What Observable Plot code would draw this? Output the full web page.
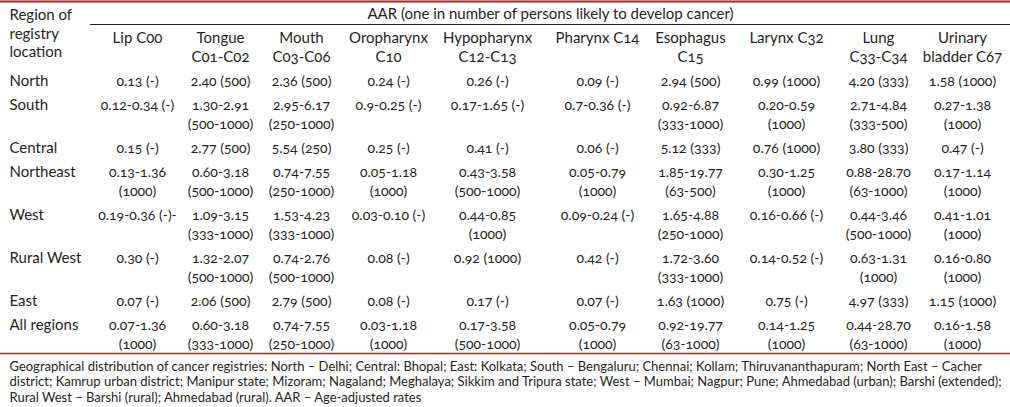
<!DOCTYPE html>
<html><head><meta charset="utf-8">
<script src="https://cdn.jsdelivr.net/npm/d3@7"></script>
<script src="https://cdn.jsdelivr.net/npm/@observablehq/plot@0.6"></script>
<style>
html,body{margin:0;padding:0;background:#fff;}
#chart svg{display:block;}
</style></head><body><div id="chart"></div>
<script>
// ---------- DATA ----------
const spanner = "AAR (one in number of persons likely to develop cancer)";
const stubHeader = ["Region of", "registry", "location"];
const regions = ["North", "South", "Central", "Northeast", "West", "Rural West", "East", "All regions"];
const columnHeaders = [
  ["Lip C00"], ["Tongue", "C01-C02"], ["Mouth", "C03-C06"], ["Oropharynx", "C10"],
  ["Hypopharynx", "C12-C13"], ["Pharynx C14"], ["Esophagus", "C15"], ["Larynx C32"],
  ["Lung", "C33-C34"], ["Urinary", "bladder C67"]
];
const lipC00 = ["0.13 (-)", "0.12-0.34 (-)", "0.15 (-)", "0.13-1.36 (1000)", "0.19-0.36 (-)-", "0.30 (-)", "0.07 (-)", "0.07-1.36 (1000)"];
const tongue = ["2.40 (500)", "1.30-2.91 (500-1000)", "2.77 (500)", "0.60-3.18 (500-1000)", "1.09-3.15 (333-1000)", "1.32-2.07 (500-1000)", "2.06 (500)", "0.60-3.18 (333-1000)"];
const mouth = ["2.36 (500)", "2.95-6.17 (250-1000)", "5.54 (250)", "0.74-7.55 (250-1000)", "1.53-4.23 (333-1000)", "0.74-2.76 (500-1000)", "2.79 (500)", "0.74-7.55 (250-1000)"];
const oropharynx = ["0.24 (-)", "0.9-0.25 (-)", "0.25 (-)", "0.05-1.18 (1000)", "0.03-0.10 (-)", "0.08 (-)", "0.08 (-)", "0.03-1.18 (1000)"];
const hypopharynx = ["0.26 (-)", "0.17-1.65 (-)", "0.41 (-)", "0.43-3.58 (500-1000)", "0.44-0.85 (1000)", "0.92 (1000)", "0.17 (-)", "0.17-3.58 (500-1000)"];
const pharynx = ["0.09 (-)", "0.7-0.36 (-)", "0.06 (-)", "0.05-0.79 (1000)", "0.09-0.24 (-)", "0.42 (-)", "0.07 (-)", "0.05-0.79 (1000)"];
const esophagus = ["2.94 (500)", "0.92-6.87 (333-1000)", "5.12 (333)", "1.85-19.77 (63-500)", "1.65-4.88 (250-1000)", "1.72-3.60 (333-1000)", "1.63 (1000)", "0.92-19.77 (63-1000)"];
const larynx = ["0.99 (1000)", "0.20-0.59 (1000)", "0.76 (1000)", "0.30-1.25 (1000)", "0.16-0.66 (-)", "0.14-0.52 (-)", "0.75 (-)", "0.14-1.25 (1000)"];
const lung = ["4.20 (333)", "2.71-4.84 (333-500)", "3.80 (333)", "0.88-28.70 (63-1000)", "0.44-3.46 (500-1000)", "0.63-1.31 (1000)", "4.97 (333)", "0.44-28.70 (63-1000)"];
const bladder = ["1.58 (1000)", "0.27-1.38 (1000)", "0.47 (-)", "0.17-1.14 (1000)", "0.41-1.01 (1000)", "0.16-0.80 (1000)", "1.15 (1000)", "0.16-1.58 (1000)"];
const footnote = [
  "Geographical distribution of cancer registries: North – Delhi; Central: Bhopal; East: Kolkata; South – Bengaluru; Chennai; Kollam; Thiruvananthapuram; North East – Cacher",
  "district; Kamrup urban district; Manipur state; Mizoram; Nagaland; Meghalaya; Sikkim and Tripura state; West – Mumbai; Nagpur; Pune; Ahmedabad (urban); Barshi (extended);",
  "Rural West – Barshi (rural); Ahmedabad (rural). AAR – Age-adjusted rates"
];

// ---------- TABLE LAYOUT ----------
const W = 1010, H = 407;
const columns = [lipC00, tongue, mouth, oropharynx, hypopharynx, pharynx, esophagus, larynx, lung, bladder];
const colCenter = [137, 220, 301, 388, 487, 597, 690, 786, 878, 962];
const stubX = 9;
const lineH = 19, rowGap = 5, firstRowY = 81;
const headerY = [38, 57], stubHeaderY = [15, 33.5, 52], spannerY = 14;
const ruleSpannerY = 24, spannerX1 = 90;
const footLineH = 15.5, footGap = 13;
const maxOneLine = 14;
const wrap = (s) => s.length > maxOneLine && s.indexOf(" (") > 0 ? [s.slice(0, s.indexOf(" (")), s.slice(s.indexOf(" (") + 1)] : [s];

// lay out body lines
const cells = [], stubCells = [];
let y = firstRowY;
regions.forEach((r, i) => {
  const parts = columns.map(c => wrap(c[i]));
  const n = d3.max(parts, p => p.length);
  stubCells.push({text: r, x: stubX, y});
  parts.forEach((p, j) => p.forEach((t, k) => cells.push({text: t, x: colCenter[j], y: y + k * lineH})));
  y += n * lineH + rowGap;
});
const lastBodyY = y - rowGap - lineH;
const ruleBottom = lastBodyY + 9;
const headCells = [];
columnHeaders.forEach((h, j) => h.forEach((t, k) => headCells.push({text: t, x: colCenter[j], y: headerY[k]})));
const stubHead = stubHeader.map((t, k) => ({text: t, x: stubX, y: stubHeaderY[k]}));
const foot = footnote.map((t, k) => ({text: t, x: stubX, y: ruleBottom + footGap + k * footLineH}));

const ink = "#231f20", red = "#9b2a2f";
const textFont = {fontSize: 15, fill: ink};
const numFont = {fontSize: 14, fill: ink};

const chart = Plot.plot({
  width: W, height: H,
  marginTop: 0, marginRight: 0, marginBottom: 0, marginLeft: 0,
  x: {domain: [0, W], range: [0, W], axis: null},
  y: {domain: [0, H], range: [0, H], axis: null},
  style: {fontFamily: "Lato, 'Open Sans', sans-serif", fontVariantNumeric: "oldstyle-nums", background: "#fff", color: ink},
  marks: [
    Plot.ruleY([1], {x1: 0, x2: W, stroke: red, strokeWidth: 2}),
    Plot.ruleY([ruleSpannerY], {x1: spannerX1, x2: W, stroke: ink, strokeWidth: 1}),
    Plot.ruleY([ruleBottom], {x1: 0, x2: W, stroke: red, strokeWidth: 1.5}),
    Plot.text([spanner], {x: (spannerX1 + W) / 2, y: spannerY, text: d => d, ...textFont}),
    Plot.text(stubHead, {x: "x", y: "y", text: "text", textAnchor: "start", ...textFont}),
    Plot.text(headCells, {x: "x", y: "y", text: "text", ...textFont}),
    Plot.text(stubCells, {x: "x", y: "y", text: "text", textAnchor: "start", ...textFont}),
    Plot.text(cells, {x: "x", y: "y", text: "text", ...numFont}),
    Plot.text(foot, {x: "x", y: "y", text: "text", textAnchor: "start", fontSize: 13, fill: ink})
  ]
});
document.getElementById("chart").appendChild(chart);
</script></body></html>
